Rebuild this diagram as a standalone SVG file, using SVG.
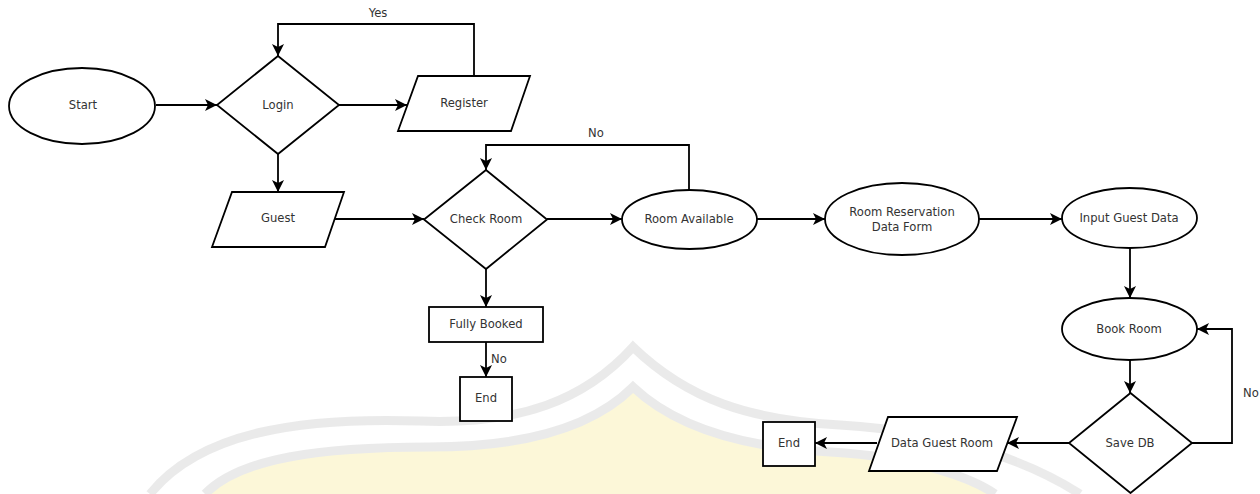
<svg xmlns="http://www.w3.org/2000/svg" width="1260" height="494" viewBox="0 0 1260 494">
<style>
.shape{fill:#fff;stroke:#000;stroke-width:1.8}
.conn{fill:none;stroke:#000;stroke-width:1.8}
.lbl{font-family:"DejaVu Sans",sans-serif;font-size:11.6px;fill:#333;text-anchor:middle;dominant-baseline:central}
</style>
<defs>
<marker id="ah" markerUnits="userSpaceOnUse" markerWidth="14" markerHeight="14" refX="12" refY="6" orient="auto">
<path d="M0,0 L12,6 L0,12 L3,6 z" fill="#000"/>
</marker>
</defs>
<rect width="1260" height="494" fill="#fff"/>
<g id="watermark" opacity="0.7">
<path d="M205,494 C240,458 320,447 430,447 C540,447 600,420 633,387 C670,422 730,447 830,452 C920,457 975,480 995,494 Z" fill="#fbf5c8"/>
<path d="M150,494 C200,432 300,417 420,421 C520,425 585,400 633,347 C688,400 750,420 840,425 C960,432 1040,468 1080,494" fill="none" stroke="#e2e2e2" stroke-width="9"/>
<path d="M205,494 C240,458 320,447 430,447 C540,447 600,420 633,387 C670,422 730,447 830,452 C920,457 975,480 995,494" fill="none" stroke="#e2e2e2" stroke-width="9"/>
</g>
<g id="connectors">
<path class="conn" d="M156,105 H217" marker-end="url(#ah)"/>
<path class="conn" d="M339,105 H407" marker-end="url(#ah)"/>
<path class="conn" d="M474,76 V24 H278 V56" marker-end="url(#ah)"/>
<path class="conn" d="M278,154 V192" marker-end="url(#ah)"/>
<path class="conn" d="M335,219 H424" marker-end="url(#ah)"/>
<path class="conn" d="M547,219 H622" marker-end="url(#ah)"/>
<path class="conn" d="M689,190 V145 H486 V170" marker-end="url(#ah)"/>
<path class="conn" d="M486,269 V307" marker-end="url(#ah)"/>
<path class="conn" d="M486,342 V377" marker-end="url(#ah)"/>
<path class="conn" d="M757,219 H825" marker-end="url(#ah)"/>
<path class="conn" d="M979,219 H1062" marker-end="url(#ah)"/>
<path class="conn" d="M1130,248 V298" marker-end="url(#ah)"/>
<path class="conn" d="M1130,360 V393" marker-end="url(#ah)"/>
<path class="conn" d="M1192,443 H1232 V329 H1197" marker-end="url(#ah)"/>
<path class="conn" d="M1069,443 H1007" marker-end="url(#ah)"/>
<path class="conn" d="M877,443 H815" marker-end="url(#ah)"/>
<text class="lbl" x="378" y="13">Yes</text>
<text class="lbl" x="596" y="133">No</text>
<text class="lbl" x="499" y="359">No</text>
<text class="lbl" x="1251" y="393">No</text>
</g>
<g id="start"><ellipse class="shape" cx="82" cy="106" rx="73" ry="38"/><text class="lbl" x="83" y="105">Start</text></g>
<g id="login"><path class="shape" d="M278,56 L339,105 L278,154 L217,105 Z"/><text class="lbl" x="278" y="105">Login</text></g>
<g id="register"><path class="shape" d="M418,76 L530,76 L511,131 L398,131 Z"/><text class="lbl" x="464" y="103">Register</text></g>
<g id="guest"><path class="shape" d="M232,192 L344,192 L325,247 L212,247 Z"/><text class="lbl" x="278" y="218">Guest</text></g>
<g id="check-room"><path class="shape" d="M486,170 L547,219.5 L486,269 L424,219.5 Z"/><text class="lbl" x="486" y="219">Check Room</text></g>
<g id="room-available"><ellipse class="shape" cx="689.5" cy="219.5" rx="67.5" ry="29.5"/><text class="lbl" x="689" y="219">Room Available</text></g>
<g id="room-reservation"><ellipse class="shape" cx="902" cy="219" rx="77" ry="36"/><text class="lbl" x="902" y="212">Room Reservation</text><text class="lbl" x="902" y="227">Data Form</text></g>
<g id="input-guest-data"><ellipse class="shape" cx="1129.5" cy="218" rx="67.5" ry="30"/><text class="lbl" x="1129" y="218">Input Guest Data</text></g>
<g id="book-room"><ellipse class="shape" cx="1129.5" cy="329" rx="67.5" ry="31"/><text class="lbl" x="1129" y="329">Book Room</text></g>
<g id="save-db"><path class="shape" d="M1130.5,393 L1192,443 L1130.5,493 L1069,443 Z"/><text class="lbl" x="1130" y="443">Save DB</text></g>
<g id="data-guest-room"><path class="shape" d="M888,417 L1017,417 L997,471 L869,471 Z"/><text class="lbl" x="942" y="443">Data Guest Room</text></g>
<g id="end-right"><rect class="shape" x="763" y="422" width="52" height="44"/><text class="lbl" x="789" y="443">End</text></g>
<g id="fully-booked"><rect class="shape" x="429" y="307" width="114" height="35"/><text class="lbl" x="486" y="324">Fully Booked</text></g>
<g id="end-left"><rect class="shape" x="460" y="377" width="52" height="44"/><text class="lbl" x="486" y="398">End</text></g>
</svg>
